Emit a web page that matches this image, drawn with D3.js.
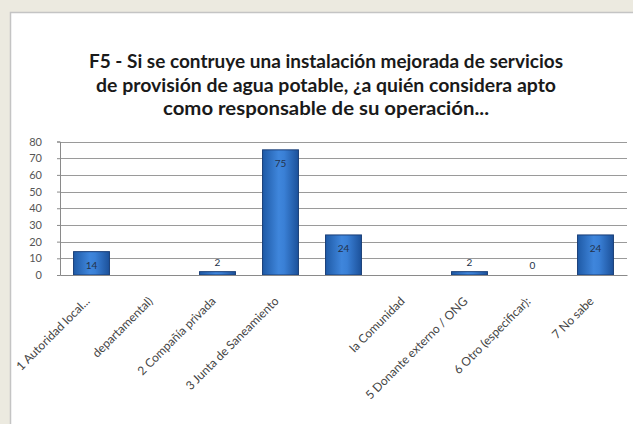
<!DOCTYPE html>
<html><head><meta charset="utf-8">
<script src="https://cdn.jsdelivr.net/npm/d3@7/dist/d3.min.js"></script>
<style>html,body{margin:0;padding:0;background:#ECEAE0;}svg{display:block;}</style>
</head><body>
<script>
const categories = ["1  Autoridad local...", "departamental)", "2  Compañía privada", "3  Junta de Saneamiento", "", "la Comunidad", "5  Donante externo / ONG", "6  Otro (especificar):", "7  No sabe"];
const values = [14, null, 2, 75, 24, null, 2, 0, 24];
const yTicks = [0, 10, 20, 30, 40, 50, 60, 70, 80];
const titleLines = ["F5 - Si se contruye una instalación mejorada de servicios", "de provisión de agua potable, ¿a quién considera apto", "como  responsable de su operación..."];
const titleWidths = [474, 460, 326];

const W = 633, H = 424;
const svg = d3.select("body").append("svg").attr("width", W).attr("height", H);

const defs = svg.append("defs");
const g1 = defs.append("linearGradient").attr("id", "barg").attr("x1", "0").attr("x2", "1").attr("y1", "0").attr("y2", "0");
g1.append("stop").attr("offset", "0").attr("stop-color", "#1f5aa6");
g1.append("stop").attr("offset", "0.45").attr("stop-color", "#3f86dc");
g1.append("stop").attr("offset", "0.6").attr("stop-color", "#3a80d6");
g1.append("stop").attr("offset", "1").attr("stop-color", "#1c519a");

// panel
svg.append("rect").attr("x", 10.5).attr("y", 12.5).attr("width", 640).attr("height", 430)
  .attr("fill", "#ffffff").attr("stroke", "#c4c4c4").attr("stroke-width", 1.5);

// title
const title = svg.append("text").attr("text-anchor", "middle")
  .attr("font-family", "Lato, 'Open Sans', sans-serif").attr("font-weight", "bold")
  .attr("font-size", 18).attr("fill", "#1a1a1a");
titleLines.forEach((t, i) => {
  title.append("tspan").attr("x", 326).attr("y", 68 + i * 23.5)
    .attr("textLength", titleWidths[i]).attr("lengthAdjust", "spacingAndGlyphs").text(t);
});

const x = d3.scaleBand().domain(d3.range(categories.length)).range([60, 627]).paddingInner(0.43).paddingOuter(0.215);
const y = d3.scaleLinear().domain([0, 80]).range([275, 141.5]);

// gridlines
svg.append("g").selectAll("line").data(yTicks.slice(1)).join("line")
  .attr("x1", 60).attr("x2", 627).attr("y1", d => Math.round(y(d)) + 0.5).attr("y2", d => Math.round(y(d)) + 0.5)
  .attr("stroke", "#9a9a9a").attr("stroke-width", 1);

// y axis
const yAxis = svg.append("g").attr("transform", "translate(60,0)")
  .call(d3.axisLeft(y).tickValues(yTicks).tickSize(3).tickPadding(15));
yAxis.select(".domain").attr("stroke", "#8a8a8a");
yAxis.selectAll(".tick line").attr("stroke", "#8a8a8a");
yAxis.selectAll("text").attr("font-family", "Lato, sans-serif").attr("font-size", 11).attr("fill", "#555");

// bars
const data = values.map((v, i) => ({i, v})).filter(d => d.v !== null);
svg.append("g").selectAll("rect").data(data.filter(d => d.v > 0)).join("rect")
  .attr("x", d => x(d.i)).attr("width", x.bandwidth())
  .attr("y", d => y(d.v)).attr("height", d => y(0) - y(d.v))
  .attr("fill", "url(#barg)").attr("stroke", "#1a3f78").attr("stroke-width", 1);

// x axis
const xAxis = svg.append("g").attr("transform", "translate(0,275)")
  .call(d3.axisBottom(x).tickSize(0).tickFormat(i => categories[i]));
xAxis.select(".domain").attr("stroke", "#8a8a8a");
xAxis.selectAll("text")
  .attr("font-family", "Lato, sans-serif").attr("font-size", 12).attr("fill", "#444")
  .attr("text-anchor", "end").attr("dy", null).attr("y", 0).attr("x", 0)
  .attr("transform", "translate(-1,27) rotate(-45)");

// data labels
svg.append("g").selectAll("text").data(data).join("text")
  .attr("x", d => x(d.i) + x.bandwidth() / 2)
  .attr("y", d => d.v > 10 ? y(d.v) + 17 : y(d.v) - 6)
  .attr("text-anchor", "middle").attr("font-family", "Lato, sans-serif").attr("font-size", 10)
  .attr("fill", "#24324a").text(d => d.v);
</script>
</body></html>
